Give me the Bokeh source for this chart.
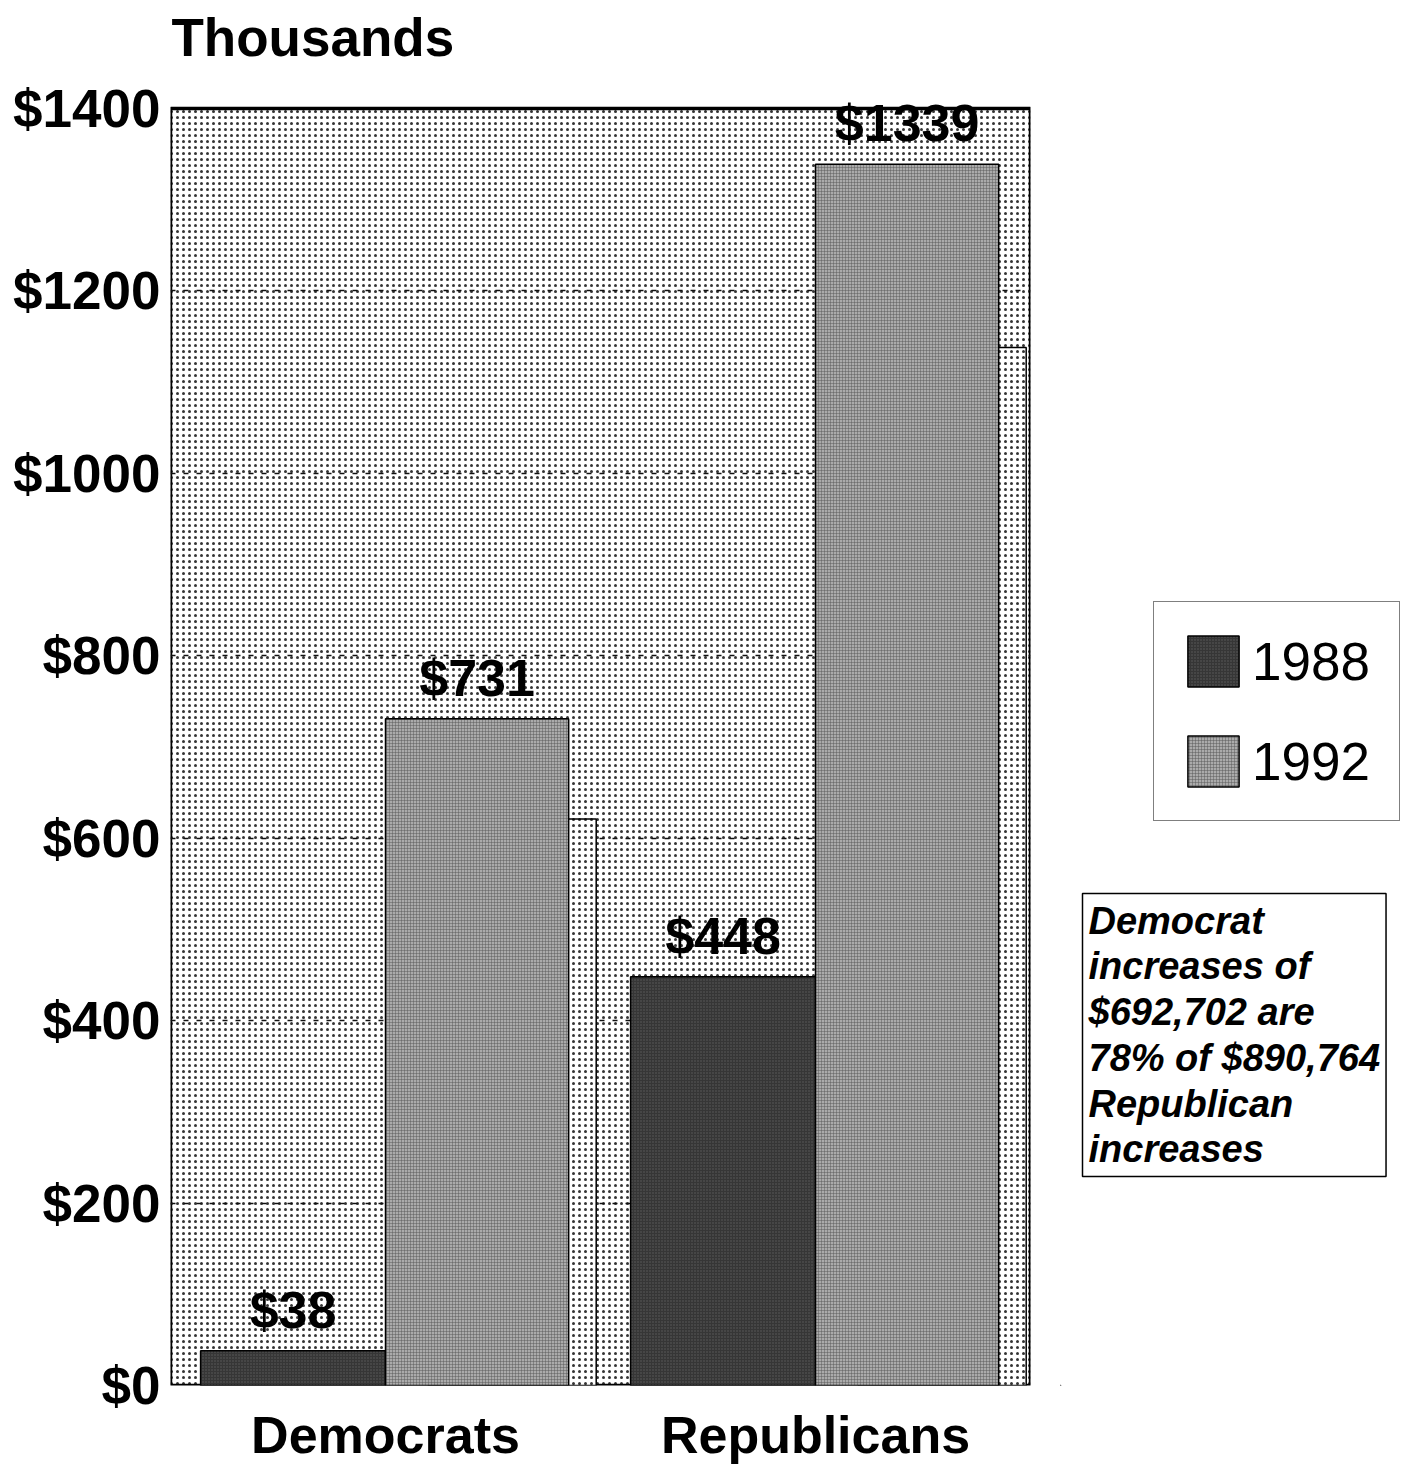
from bokeh.plotting import figure
from bokeh.models import (ColumnDataSource, FactorRange, Range1d, FixedTicker, PrintfTickFormatter,
                          BoxAnnotation, Legend, LegendItem, Label)
from bokeh.transform import dodge
from bokeh.layouts import row
from bokeh.core.properties import value
from bokeh.embed import file_html
from bokeh.resources import INLINE

# ---- data (thousands of dollars) ----
parties = ["Democrats", "Republicans"]
values_1988 = [38, 448]
values_1992 = [731, 1339]
backdrop_values = [621, 1138]   # white outlined bars drawn behind the 1992 bars
y_ticks = [0, 200, 400, 600, 800, 1000, 1200, 1400]
y_max = 1400
series_names = ["1988", "1992"]
unit_label = "Thousands"
note_lines = ["Democrat", "increases  of", "$692,702 are", "78% of $890,764", "Republican", "increases"]

FONT = "Liberation Sans"
C88 = "#363636"
C92 = "#ababab"
AREA_TOP, FRAME_BOTTOM = 108, 1385   # pixel rows of the plotting area
# the frame reaches the top of the page so that the unit label can sit above the plotting area
y_end = y_max * FRAME_BOTTOM / (FRAME_BOTTOM - AREA_TOP)

src = ColumnDataSource(dict(
    party=parties, v88=values_1988, v92=values_1992, vb=backdrop_values,
    l88=["$%d" % v for v in values_1988], l92=["$%d" % v for v in values_1992],
))

p = figure(x_range=FactorRange(*parties, range_padding=0), y_range=Range1d(0, y_end),
           width=1060, height=1466, output_backend="svg", toolbar_location=None,
           min_border_left=170, min_border_right=30, min_border_top=0, min_border_bottom=81)
p.outline_line_color = None
p.background_fill_color = "white"
p.border_fill_color = "white"

# stippled plotting area with its black border
bg = BoxAnnotation(bottom=0, top=y_max, fill_color="white", fill_alpha=1.0, hatch_pattern="dot",
                   hatch_color="#111111", hatch_scale=6, hatch_weight=1.4, hatch_alpha=0.85,
                   line_color="black", line_alpha=1.0, line_width=3.5, level="image")
p.add_layout(bg)

p.xgrid.grid_line_color = None
p.ygrid.ticker = FixedTicker(ticks=y_ticks[1:-1])
p.ygrid.grid_line_color = "#111111"
p.ygrid.grid_line_dash = "5 8"
p.ygrid.grid_line_width = 1.6

p.yaxis.ticker = FixedTicker(ticks=y_ticks)
p.yaxis.formatter = PrintfTickFormatter(format="$%d")
for ax in (p.xaxis, p.yaxis):
    ax.axis_line_color = None
    ax.major_tick_line_color = None
    ax.minor_tick_line_color = None
    ax.major_label_text_font = FONT
    ax.major_label_text_font_style = "bold"
    ax.major_label_text_color = "black"
p.yaxis.major_label_text_font_size = "53px"
p.xaxis.major_label_text_font_size = "52px"
p.yaxis.major_label_standoff = 4
p.xaxis.major_label_standoff = 14

# backdrop bars
p.vbar(x=dodge("party", 0.295, range=p.x_range), top="vb", width=0.39, source=src,
       fill_color="white", hatch_pattern="dot", hatch_color="#111111", hatch_scale=6,
       hatch_weight=1.4, hatch_alpha=0.85, line_color="black", line_width=1.5)
# 1988 bars
p.vbar(x=dodge("party", -0.215, range=p.x_range), top="v88", width=0.43, source=src,
       fill_color=C88, hatch_pattern="dot", hatch_color="#777777", hatch_scale=3, hatch_alpha=0.6,
       line_color="black", line_width=1.5)
# 1992 bars
p.vbar(x=dodge("party", 0.213, range=p.x_range), top="v92", width=0.426, source=src,
       fill_color=C92, hatch_pattern="cross", hatch_color="#555555", hatch_scale=3, hatch_alpha=0.45,
       line_color="black", line_width=1.5)

lbl_kw = dict(text_font=value(FONT), text_font_size="52px", text_font_style="bold",
              text_align="center", text_baseline="bottom", y_offset=-12, text_color="black", source=src)
p.text(x=dodge("party", -0.215, range=p.x_range), y="v88", text="l88", **lbl_kw)
p.text(x=dodge("party", 0.213, range=p.x_range), y="v92", text="l92", **lbl_kw)

# unit label above the plotting area
unit = Label(x=1, y=FRAME_BOTTOM - 7, x_units="screen", y_units="screen", text=unit_label,
             text_align="left", text_baseline="top", text_color="black",
             text_font=FONT, text_font_size="53px", text_font_style="bold")
p.add_layout(unit)

# ---- right-hand panel: legend and note ----
q = figure(width=345, height=1466, x_range=Range1d(0, 1), y_range=Range1d(0, 1),
           x_axis_type=None, y_axis_type=None, output_backend="svg", toolbar_location=None,
           min_border=0, outline_line_color=None)
q.grid.grid_line_color = None
dummy = ColumnDataSource(dict(x=[-50.0], top=[-50.0], bottom=[-51.0]))
r88 = q.vbar(x="x", top="top", bottom="bottom", width=0.1, source=dummy, fill_color=C88, hatch_pattern="dot",
             hatch_color="#777777", hatch_scale=3, hatch_alpha=0.6, line_color="black", line_width=1.5)
r92 = q.vbar(x="x", top="top", bottom="bottom", width=0.1, source=dummy, fill_color=C92, hatch_pattern="cross",
             hatch_color="#555555", hatch_scale=3, hatch_alpha=0.45, line_color="black", line_width=1.5)
legend = Legend(items=[LegendItem(label=series_names[0], renderers=[r88]),
                       LegendItem(label=series_names[1], renderers=[r92])],
                location=(93, FRAME_BOTTOM - 821), orientation="vertical",
                glyph_width=64, glyph_height=64, label_text_font=FONT, label_text_font_size="53px",
                label_text_color="black", label_width=120,
                label_standoff=7, spacing=36, padding=27, margin=0,
                border_line_color="black", border_line_width=1.5, background_fill_color="white",
                background_fill_alpha=1.0)
q.add_layout(legend)

note = Label(x=22, y=FRAME_BOTTOM - 893, x_units="screen", y_units="screen", text="\n".join(note_lines),
             anchor="top_left", text_align="left", text_baseline="top", text_color="black",
             text_font=FONT, text_font_size="38px", text_font_style="bold italic", text_line_height=1.09,
             border_line_color="black", border_line_width=1.5, background_fill_color="white",
             padding=6)
q.add_layout(note)

layout = row(p, q)
open("out.html", "w").write(file_html(layout, INLINE))
